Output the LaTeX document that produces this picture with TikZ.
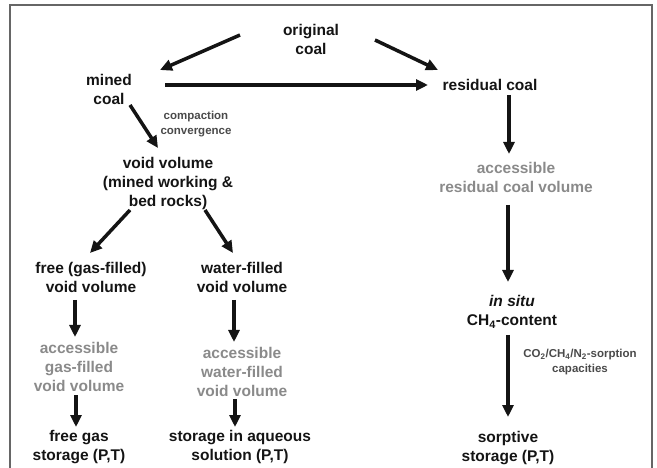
\documentclass[tikz,border=0pt]{standalone}
\usepackage{fontspec}
\setmainfont{Liberation Sans}
\usetikzlibrary{arrows.meta}
\definecolor{accgray}{HTML}{8A8A8A}
\definecolor{labelgray}{HTML}{4A4A4A}
\definecolor{framegray}{HTML}{666666}
\tikzset{
  % coal / volume / storage stages
  stage/.style={
    align=center, inner sep=0pt, text=black!92,
    font=\bfseries\fontsize{15.5}{19}\selectfont
  },
  % accessible volumes (grey)
  access/.style={stage, text=accgray},
  % process labels beside arrows
  process/.style={
    align=center, inner sep=0pt, text=labelgray,
    font=\bfseries\fontsize{11.5}{14.5}\selectfont
  },
  % thick arrows
  flow/.style={
    -{Triangle[length=12pt,width=11pt]}, line width=3.5pt, black!92
  },
}

\begin{document}
\begin{tikzpicture}[x=1pt, y=-1pt]
  \useasboundingbox (0,0) rectangle (657,468);
  \draw[framegray, line width=1.5pt] (10,468) -- (10,5) -- (652,5) -- (652,468);

  %% ── Top level ──
  \node[stage] (orig)     at (311,39)  {original\\coal};
  \node[stage] (mined)    at (109,89)  {mined\\coal};
  \node[stage] (residual) at (490,85)  {residual coal};
  \node[process] (compact) at (196,124) {compaction\\convergence};

  %% ── Mined side ──
  \node[stage]  (void)     at (168,183) {void volume\\(mined working \&\\bed rocks)};
  \node[stage]  (free)     at (91,277)  {free (gas-filled)\\void volume};
  \node[stage]  (water)    at (242,277) {water-filled\\void volume};
  \node[access] (accgas)   at (79,367)  {accessible\\gas-filled\\void volume};
  \node[access] (accwater) at (242,372) {accessible\\water-filled\\void volume};
  \node[stage]  (freegas)  at (79,447)  {free gas\\storage (P,T)};
  \node[stage]  (aqueous)  at (240,447) {storage in aqueous\\solution (P,T)};

  %% ── Residual side ──
  \node[access] (accres)   at (516,177) {accessible\\residual coal volume};
  \node[stage]  (insitu)   at (512,312) {\itshape in situ\\CH\textsubscript{4}-content};
  \node[process] (sorption) at (580,362) {CO\textsubscript{2}/CH\textsubscript{4}/N\textsubscript{2}-sorption\\capacities};
  \node[stage]  (sorptive) at (508,448) {sorptive\\storage (P,T)};

  %% ── Arrows ──
  \draw[flow] ([shift={(-71,-4)}]orig.center)   -- ([shift={(51,-19)}]mined.center);
  \draw[flow] ([shift={(64,1)}]orig.center)     -- ([shift={(-52,-15)}]residual.center);
  \draw[flow] ([shift={(56,-4)}]mined.center)   -- ([shift={(-62,0)}]residual.center);
  \draw[flow] ([shift={(21,16)}]mined.center)   -- ([shift={(-10,-35)}]void.center);
  \draw[flow] ([shift={(-38,27)}]void.center)   -- ([shift={(-1,-24)}]free.center);
  \draw[flow] ([shift={(37,27)}]void.center)    -- ([shift={(-9,-24)}]water.center);
  \draw[flow] ([shift={(-16,23)}]free.center)   -- ([shift={(-4,-30)}]accgas.center);
  \draw[flow] ([shift={(-3,28)}]accgas.center)  -- ([shift={(-3,-20)}]freegas.center);
  \draw[flow] ([shift={(-8,23)}]water.center)   -- ([shift={(-8,-30)}]accwater.center);
  \draw[flow] ([shift={(-7,27)}]accwater.center) -- ([shift={(-5,-20)}]aqueous.center);
  \draw[flow] ([shift={(19,10)}]residual.center) -- ([shift={(-7,-23)}]accres.center);
  \draw[flow] ([shift={(-8,28)}]accres.center)  -- ([shift={(-4,-30)}]insitu.center);
  \draw[flow] ([shift={(-4,23)}]insitu.center)  -- ([shift={(0,-31)}]sorptive.center);

\end{tikzpicture}
\end{document}
